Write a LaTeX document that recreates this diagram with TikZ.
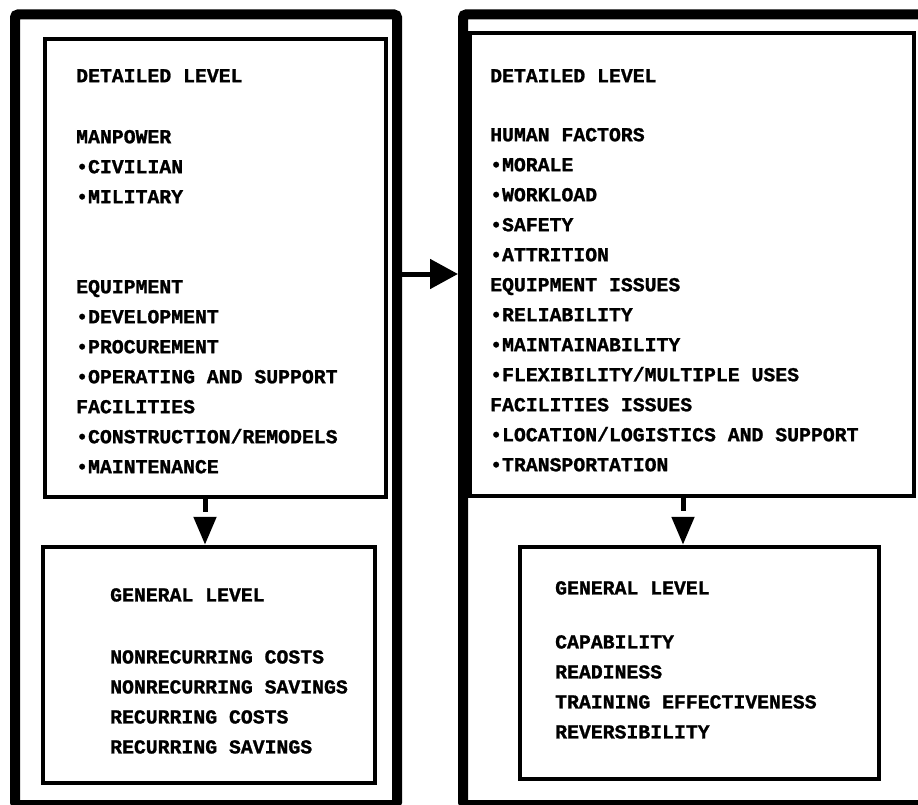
\documentclass[tikz,border=0pt]{standalone}
\usepackage{fontspec}
\setmonofont{Liberation Mono}[BoldFeatures={FakeBold=1.2}]
\usetikzlibrary{positioning, arrows.meta}

\begin{document}
\begin{tikzpicture}[x=1pt, y=-1pt,
		outerbox/.style={draw, rectangle, line width=10pt, rounded corners=3pt},
		levelbox/.style={draw, rectangle, line width=4.5pt},
		listtext/.style={anchor=north west, inner sep=0pt, align=left,
			font=\ttfamily\bfseries\fontsize{19.8}{30}\selectfont},
		arrow/.style={-{Triangle[length=28pt, width=29pt]}, line width=5pt},
		darrow/.style={-{Triangle[length=28pt, width=22pt]}, line width=5pt,
			dash pattern=on 13pt off 20pt},
		]
		\useasboundingbox (0,0) rectangle (918,805);
		
		%% ── LEFT FRAME ─────────────────────────────────────────
		\node[outerbox, minimum width=382pt, minimum height=790.5pt] (outerL) at (206, 409.75) {};
		\node[levelbox, minimum width=341pt, minimum height=458pt] (detL) at (215.5, 268) {};
		\node[levelbox, minimum width=332pt, minimum height=236pt] (genL) at (209, 665) {};
		
		\node[listtext] (detLtxt) at (76, 69) {DETAILED LEVEL\\[31pt]
			MANPOWER\\ •CIVILIAN\\ •MILITARY\\[60pt]
			EQUIPMENT\\ •DEVELOPMENT\\ •PROCUREMENT\\ •OPERATING AND SUPPORT\\
			FACILITIES\\ •CONSTRUCTION/REMODELS\\ •MAINTENANCE};
		\node[listtext] (genLtxt) at (110, 588) {GENERAL LEVEL\\[32pt]
			NONRECURRING COSTS\\ NONRECURRING SAVINGS\\ RECURRING COSTS\\ RECURRING SAVINGS};
		
		% detailed -> general
		\draw[darrow] ([xshift=-10.5pt]detL.south) -- ([xshift=-10.5pt]detL.south |- genL.north);
		
		%% ── RIGHT FRAME ────────────────────────────────────────
		\node[outerbox, minimum width=467pt, minimum height=790.5pt] (outerR) at (696.5, 409.75) {};
		\node[levelbox, minimum width=444pt, minimum height=463pt] (detR) at (692, 264.5) {};
		\node[levelbox, minimum width=359pt, minimum height=232pt] (genR) at (699.5, 663) {};
		
		\node[listtext] (detRtxt) at (490, 69) {DETAILED LEVEL\\[29pt]
			HUMAN FACTORS\\ •MORALE\\ •WORKLOAD\\ •SAFETY\\ •ATTRITION\\
			EQUIPMENT ISSUES\\ •RELIABILITY\\ •MAINTAINABILITY\\ •FLEXIBILITY/MULTIPLE USES\\
			FACILITIES ISSUES\\ •LOCATION/LOGISTICS AND SUPPORT\\ •TRANSPORTATION};
		\node[listtext] (genRtxt) at (555, 581) {GENERAL LEVEL\\[24pt]
			CAPABILITY\\ READINESS\\ TRAINING EFFECTIVENESS\\ REVERSIBILITY};
		
		% detailed -> general
		\draw[darrow] ([xshift=-9pt]detR.south) -- ([xshift=-9pt]detR.south |- genR.north);
		
		%% ── LEFT -> RIGHT ──────────────────────────────────────
		\draw[arrow] ([yshift=135.75pt]outerL.east) -- ([yshift=135.75pt]outerR.west);
		
	\end{tikzpicture}
\end{document}
